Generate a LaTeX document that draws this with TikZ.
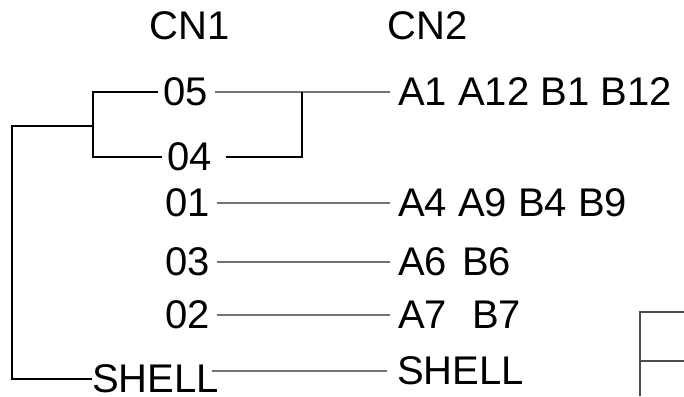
\documentclass[tikz,border=0pt]{standalone}
\usepackage{fontspec}
\setmainfont{Liberation Sans}
\usepackage{tikz}
\usetikzlibrary{positioning,calc}
\tikzset{
    cnlabel/.style={
        inner sep=0pt,
        font=\fontsize{40}{48}\selectfont
    },
    tree/.style={
        draw=black,
        line width=1.6pt
    },
    link/.style={
        draw=black!55,
        line width=1.1pt
    }
}
\begin{document}
\begin{tikzpicture}[x=1pt,y=1pt]
  \tikzset{
    frame/.style={
      draw=black!70,
      line width=1.4pt
    }
  }
  \useasboundingbox (0,0) rectangle (684,-396);

  % Column headers
  \node[cnlabel] (hcn1) at (190,-26) {CN1};
  \node[cnlabel] (hcn2) at (428,-26) {CN2};

  % CN1 column
  \node[cnlabel, anchor=west] (c05) at (163,-92) {05};
  \node[cnlabel, anchor=west] (c04) at (167,-157) {04};
  \node[cnlabel, anchor=west] (c01) at (165,-203) {01};
  \node[cnlabel, anchor=west] (c03) at (165,-262) {03};
  \node[cnlabel, anchor=west] (c02) at (165,-315) {02};
  \node[cnlabel, anchor=west] (s1) at (92,-379) {SHELL};

  % CN2 column
  \node[cnlabel, anchor=west] (d05) at (398,-92) {A1 A12 B1 B12};
  \node[cnlabel, anchor=west] (d01) at (398,-203) {A4 A9 B4 B9};
  \node[cnlabel, anchor=west] (d03) at (398,-262) {A6\hspace{4pt} B6};
  \node[cnlabel, anchor=west] (d02) at (398,-315) {A7\hspace{14pt} B7};
  \node[cnlabel, anchor=west] (s2) at (397,-371) {SHELL};

  % Links CN1 -- CN2
  \draw[link] ([xshift=7pt]c05.east) -- ([xshift=-8pt]d05.west);
  \draw[link] ([xshift=7pt]c01.east) -- ([xshift=-8pt]d01.west);
  \draw[link] ([xshift=7pt]c03.east) -- ([xshift=-8pt]d03.west);
  \draw[link] ([xshift=7pt]c02.east) -- ([xshift=-8pt]d02.west);
  \draw[link] ([xshift=-7pt]s1.east |- s2.west) -- ([xshift=-10pt]s2.west);

  % Dendrogram
  \coordinate (k1) at (93,-126);
  \coordinate (k0) at (12,-126);
  \coordinate (k2) at (302,-92);
  \draw[tree] ([xshift=-5pt]c05.west) -| (k1) |- ([xshift=-5pt]c04.west);
  \draw[tree] (k1) -- (k0) |- (s1.west);
  \draw[tree] ([xshift=14pt]c04.east) -| (k2);

  % Frame at the lower right
  \coordinate (f0) at (640,-396);
  \coordinate (f1) at (684,-312);
  \coordinate (f2) at (640,-361);
  \coordinate (f3) at (684,-361);
  \draw[frame] (f0) |- (f1);
  \draw[frame] (f2) -- (f3);
\end{tikzpicture}
\end{document}
